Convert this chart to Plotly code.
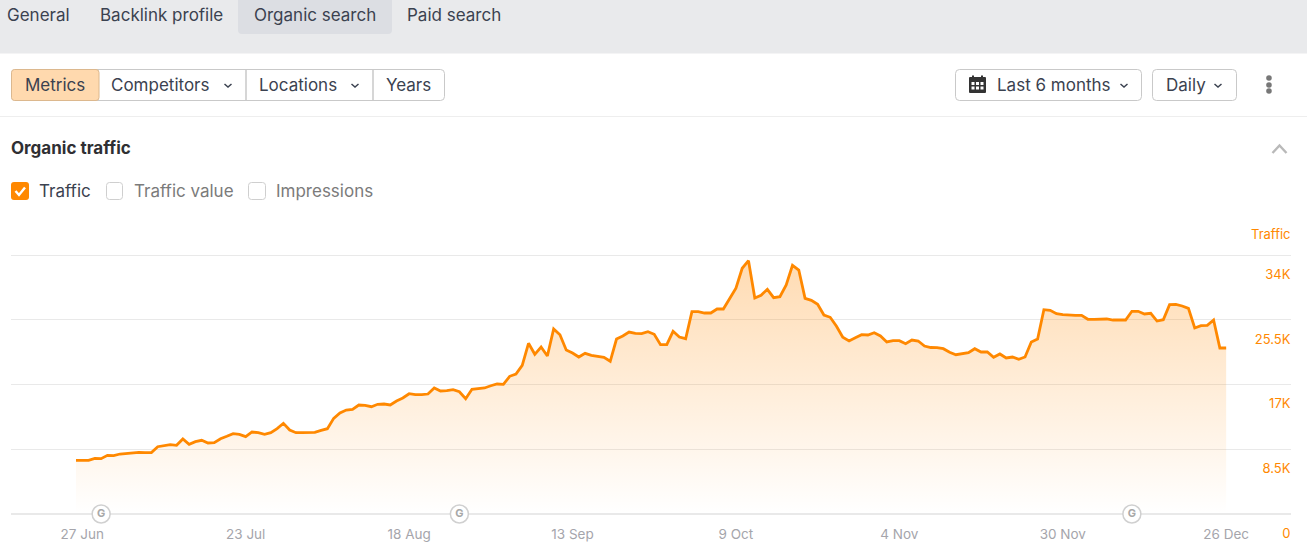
import pandas as pd
import plotly.graph_objects as go

W, H = 1307, 557
start_date = "2024-06-26"
traffic = [7050,7050,7050,7310,7260,7705,7655,7875,7970,8100,8100,8060,8060,8835,8965,9095,9020,9845,9150,9490,
9675,9320,9360,9885,10200,10540,10460,10150,10765,10670,10460,10670,11200,11905,11025,10670,10670,10670,10725,10985,
11200,12560,13260,13650,13745,14310,14270,14085,14400,14440,14310,14835,15225,15790,15660,15660,15750,16540,16145,16185,
16315,16055,15135,16370,16410,16540,16840,17065,17025,18075,18380,19520,22410,20965,21920,20740,24285,23535,21530,21135,
20610,21095,20830,20700,20570,20045,22970,23365,23890,23720,23670,23930,23590,22225,22225,23980,23235,23010,26555,26555,
26385,26385,26910,26910,28185,29630,32255,33250,28355,28710,29495,28395,28525,30060,32645,32030,28315,28050,27530,26125,
25820,24640,23195,22710,23140,23535,23500,23800,23365,22580,22750,22750,22355,22840,22710,22055,21855,21830,21700,21225,
20910,21040,21175,21700,21265,21265,20570,21005,20480,20610,20310,20610,22580,22970,26820,26740,26295,26160,26085,26085,
26085,25560,25560,25600,25600,25465,25465,25465,26610,26610,26255,26345,25335,25505,27475,27530,27305,27000,24415,24720,
24770,25465,21790,21790]
dates = pd.date_range(start_date, periods=len(traffic), freq="D")
x_tick_dates = ["2024-06-27","2024-07-23","2024-08-18","2024-09-13","2024-10-09","2024-11-04","2024-11-30","2024-12-26"]
x_tick_labels = ["27 Jun","23 Jul","18 Aug","13 Sep","9 Oct","4 Nov","30 Nov","26 Dec"]
y_ticks = [0,8500,17000,25500,34000]
y_tick_labels = ["0","8.5K","17K","25.5K","34K"]
update_dates = ["2024-06-30","2024-08-26","2024-12-11"]

ORANGE = "#ff8800"
FONT = "Inter"
DARK = "#3b4250"
BORDER = "#c9c9c9"
PER_PX = 34000 / 259
DAY_PX = 6.285
t0 = pd.Timestamp(start_date)

def fx(x): return x / W
def fy(y): return 1 - y / H

shapes = []
def rect(x0, y0, x1, y1, fill="rgba(0,0,0,0)", line=None, r=0, width=1):
    if r:
        path = (f"M{fx(x0+r)},{fy(y0)} L{fx(x1-r)},{fy(y0)} Q{fx(x1)},{fy(y0)} {fx(x1)},{fy(y0+r)} "
                f"L{fx(x1)},{fy(y1-r)} Q{fx(x1)},{fy(y1)} {fx(x1-r)},{fy(y1)} "
                f"L{fx(x0+r)},{fy(y1)} Q{fx(x0)},{fy(y1)} {fx(x0)},{fy(y1-r)} "
                f"L{fx(x0)},{fy(y0+r)} Q{fx(x0)},{fy(y0)} {fx(x0+r)},{fy(y0)} Z")
        shapes.append(dict(type="path", path=path, xref="paper", yref="paper", fillcolor=fill,
                           line=dict(color=line or "rgba(0,0,0,0)", width=width if line else 0)))
    else:
        shapes.append(dict(type="rect", x0=fx(x0), x1=fx(x1), y0=fy(y1), y1=fy(y0), xref="paper", yref="paper",
                           fillcolor=fill, line=dict(color=line or "rgba(0,0,0,0)", width=width if line else 0)))
def poly(points, color, width=1.5):
    p = "M" + " L".join(f"{fx(a)},{fy(b)}" for a, b in points)
    shapes.append(dict(type="path", path=p, xref="paper", yref="paper", line=dict(color=color, width=width)))
def chevron(x, y, color=DARK):
    poly([(x-3.5, y-1.5), (x, y+1.5), (x+3.5, y-1.5)], color, 1.5)
def dot(x, y, r, color):
    shapes.append(dict(type="circle", xref="paper", yref="paper", x0=fx(x-r), x1=fx(x+r), y0=fy(y+r), y1=fy(y-r),
                       fillcolor=color, line=dict(width=0)))

# page chrome
rect(0, 0, W, 53.5, fill="#e9eaec")
rect(238, -6, 392, 34, fill="#dcdee3", r=4)
shapes.append(dict(type="line", xref="paper", yref="paper", x0=0, x1=1, y0=fy(116.5), y1=fy(116.5), line=dict(color="#eeeeee", width=1)))
rect(11.5, 69.5, 444.5, 100.5, fill="#ffffff", line=BORDER, r=4)
rect(11.5, 69.5, 99, 100.5, fill="#ffd9ae", line="#dcb88e", r=3)
for dx in (246, 373):
    shapes.append(dict(type="line", xref="paper", yref="paper", x0=fx(dx), x1=fx(dx), y0=fy(69.5), y1=fy(100.5), line=dict(color=BORDER, width=1.5)))
rect(955.5, 69.5, 1141.5, 100.5, fill="#ffffff", line=BORDER, r=4)
rect(1152.5, 69.5, 1236.5, 100.5, fill="#ffffff", line=BORDER, r=4)
for cx in (228, 355, 1124, 1218):
    chevron(cx, 85.5)
# calendar icon
rect(969, 77, 986, 93, fill="#333333", r=1)
rect(972, 75.5, 974, 78, fill="#333333")
rect(981, 75.5, 983, 78, fill="#333333")
for gx in (971.5, 976, 980.5):
    for gy in (82, 86.5):
        rect(gx, gy, gx+3, gy+3, fill="#ffffff")
for dy in (78, 85, 91):
    dot(1269, dy, 2.8, "#777777")
poly([(1272.5, 153), (1279.5, 145.5), (1286.5, 153)], "#b9b9b9", 2.4)
# checkboxes
rect(11, 182, 29, 200, fill=ORANGE, r=3)
poly([(15.5, 191), (19, 195), (25, 187.5)], "#ffffff", 2.4)
rect(106.5, 182.5, 122.5, 199.5, fill="#ffffff", line="#cfcfcf", r=3)
rect(248.5, 182.5, 265.5, 199.5, fill="#ffffff", line="#cfcfcf", r=3)

annotations = []
def label(x, y, text, size=17, color=DARK, anchor="left", bold=False):
    annotations.append(dict(xref="paper", yref="paper", x=fx(x), y=fy(y), text=f"<b>{text}</b>" if bold else text,
                            showarrow=False, xanchor=anchor, yanchor="middle", borderpad=0,
                            font=dict(family=FONT, size=size, color=color)))
for x, t in [(5.5, "General"), (98.5, "Backlink profile"), (252.5, "Organic search"), (406, "Paid search")]:
    label(x, 15, t)
for x, t in [(24, "Metrics"), (110, "Competitors"), (258, "Locations"), (385, "Years"), (995.5, "Last 6 months"), (1164.5, "Daily")]:
    label(x, 85, t)
label(10, 148, "Organic traffic", bold=True, color="#2f2f33")
label(38, 191, "Traffic", color=DARK)
label(132.5, 191, "Traffic value", color="#7b7b7b")
label(274.5, 191, "Impressions", color="#7b7b7b")
label(1292, 234, "Traffic", size=13, color=ORANGE, anchor="right")

fig = go.Figure()
fig.add_trace(go.Scatter(x=dates, y=traffic, mode="lines", cliponaxis=False,
    line=dict(color=ORANGE, width=2.8, shape="linear"), fill="tozeroy",
    fillgradient=dict(type="vertical", colorscale=[[0, "rgba(255,136,0,0)"], [1, "rgba(255,136,0,0.3)"]]),
    hoverinfo="skip", showlegend=False))
fig.add_trace(go.Scatter(x=pd.to_datetime(update_dates), y=[0]*len(update_dates), mode="markers+text", text=["G"]*len(update_dates),
    textposition="middle center", textfont=dict(family=FONT, size=11, color="#a8a8a8", weight="bold"),
    marker=dict(size=18, color="#ffffff", line=dict(color="#d0d0d0", width=1.5)), cliponaxis=False,
    hoverinfo="skip", showlegend=False))
fig.add_trace(go.Scatter(x=dates[:1], y=[0], yaxis="y2", mode="markers", marker=dict(opacity=0), hoverinfo="skip", showlegend=False))

x0 = t0 + pd.Timedelta(days=(11 - 76) / DAY_PX)
x1 = t0 + pd.Timedelta(days=(1291 - 76) / DAY_PX)
fig.update_layout(width=W, height=H, margin=dict(l=0, r=0, t=0, b=0), paper_bgcolor="#ffffff", plot_bgcolor="rgba(0,0,0,0)",
    shapes=shapes, annotations=annotations, showlegend=False,
    font=dict(family=FONT),
    xaxis=dict(type="date", domain=[11 / W, 1291 / W], range=[x0, x1], tickvals=x_tick_dates, ticktext=x_tick_labels, showgrid=False, zeroline=False,
               ticks="", showline=False, tickangle=0, ticklabelstandoff=10, tickfont=dict(family=FONT, size=13.5, color="#a5a5ab")),
    yaxis=dict(domain=[(H - 514) / H, (H - 234) / H], range=[0, (514 - 234) * PER_PX], tickvals=y_ticks, showticklabels=False,
               showgrid=True, gridcolor="#e9e9e9", gridwidth=1, zeroline=True, zerolinecolor="#e9e9e9", zerolinewidth=1.5, ticks=""),
    yaxis2=dict(domain=[0, (H - 234) / H], range=[-(557 - 533.3) * PER_PX, (533.3 - 234) * PER_PX], anchor="free", position=1293.5 / W, side="right",
                tickvals=y_ticks, ticktext=y_tick_labels, ticklabelposition="inside", showgrid=False, zeroline=False, showline=False, ticks="",
                tickfont=dict(family=FONT, size=13, color=ORANGE)),
)
fig.write_html("out.html", config={"displayModeBar": False}, post_script="document.body.style.margin='0';")
